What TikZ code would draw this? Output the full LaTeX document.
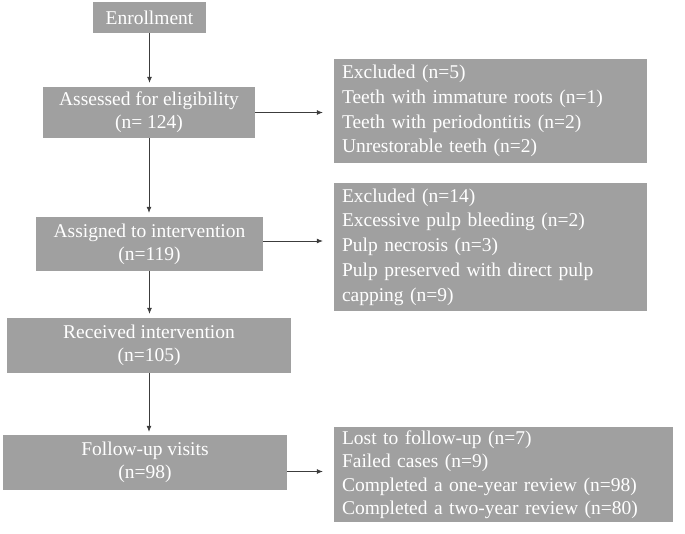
\documentclass[tikz,border=0pt]{standalone}
\usepackage{fontspec}
\setmainfont{Liberation Serif}
\usetikzlibrary{arrows.meta}
\definecolor{boxgray}{RGB}{160,160,160}
\definecolor{linegray}{RGB}{60,60,60}
\begin{document}
\begin{tikzpicture}[x=1pt,y=-1pt,
  box/.style={fill=boxgray, text=white, inner sep=0pt, align=center,
    font=\fontsize{19.5}{23}\selectfont},
  side/.style={fill=boxgray, text=white, inner sep=0pt, align=left,
    font=\fontsize{19.5}{24.7}\selectfont},
  arr/.style={draw=linegray, line width=0.7pt, -{Latex[length=6pt,width=5pt]}}]
\useasboundingbox (0,0) rectangle (685,533);

\node[box, minimum width=113pt, minimum height=31pt] (enr) at (149.5,17.5) {Enrollment};
\node[box, minimum width=212pt, minimum height=51pt] (ass) at (149,112.5) {Assessed for eligibility\\(n= 124)};
\node[box, minimum width=227pt, minimum height=54pt] (asg) at (149.5,244) {Assigned to intervention\\(n=119)};
\node[box, minimum width=284pt, minimum height=55pt] (rec) at (149,345.5) {Received intervention\\(n=105)};
\node[box, minimum width=284pt, minimum height=55pt] (fol) at (145,462.5) {Follow-up visits\\(n=98)};

\node[side, minimum width=313pt, minimum height=104pt, text width=297pt] (ex1) at (490.5,111)
  {Excluded (n=5)\\Teeth with immature roots (n=1)\\Teeth with periodontitis (n=2)\\Unrestorable teeth (n=2)};
\node[side, minimum width=313pt, minimum height=128pt, text width=297pt] (ex2) at (490.5,247)
  {Excluded (n=14)\\Excessive pulp bleeding (n=2)\\Pulp necrosis (n=3)\\Pulp preserved with direct pulp\\capping (n=9)};
\node[side, minimum width=339pt, minimum height=95pt, text width=323pt,
  font=\fontsize{19.5}{23.5}\selectfont] (ex3) at (503.5,474.5)
  {Lost to follow-up (n=7)\\Failed cases (n=9)\\Completed a one-year review (n=98)\\Completed a two-year review (n=80)};

\draw[arr, shorten >=4pt] (enr.south) -- (enr.south |- ass.north);
\draw[arr, shorten >=4pt] (ass.south) -- (ass.south |- asg.north);
\draw[arr, shorten >=4pt] (asg.south) -- (asg.south |- rec.north);
\draw[arr, shorten >=3pt] (rec.south) -- (rec.south |- fol.north);

\draw[arr, shorten >=11pt] (ass.east) -- (ass.east -| ex1.west);
\draw[arr, shorten >=11pt] ([yshift=3pt]asg.east) -- ([yshift=3pt]asg.east -| ex2.west);
\draw[arr, shorten >=11pt] ([yshift=-9pt]fol.east) -- ([yshift=-9pt]fol.east -| ex3.west);
\end{tikzpicture}
\end{document}
